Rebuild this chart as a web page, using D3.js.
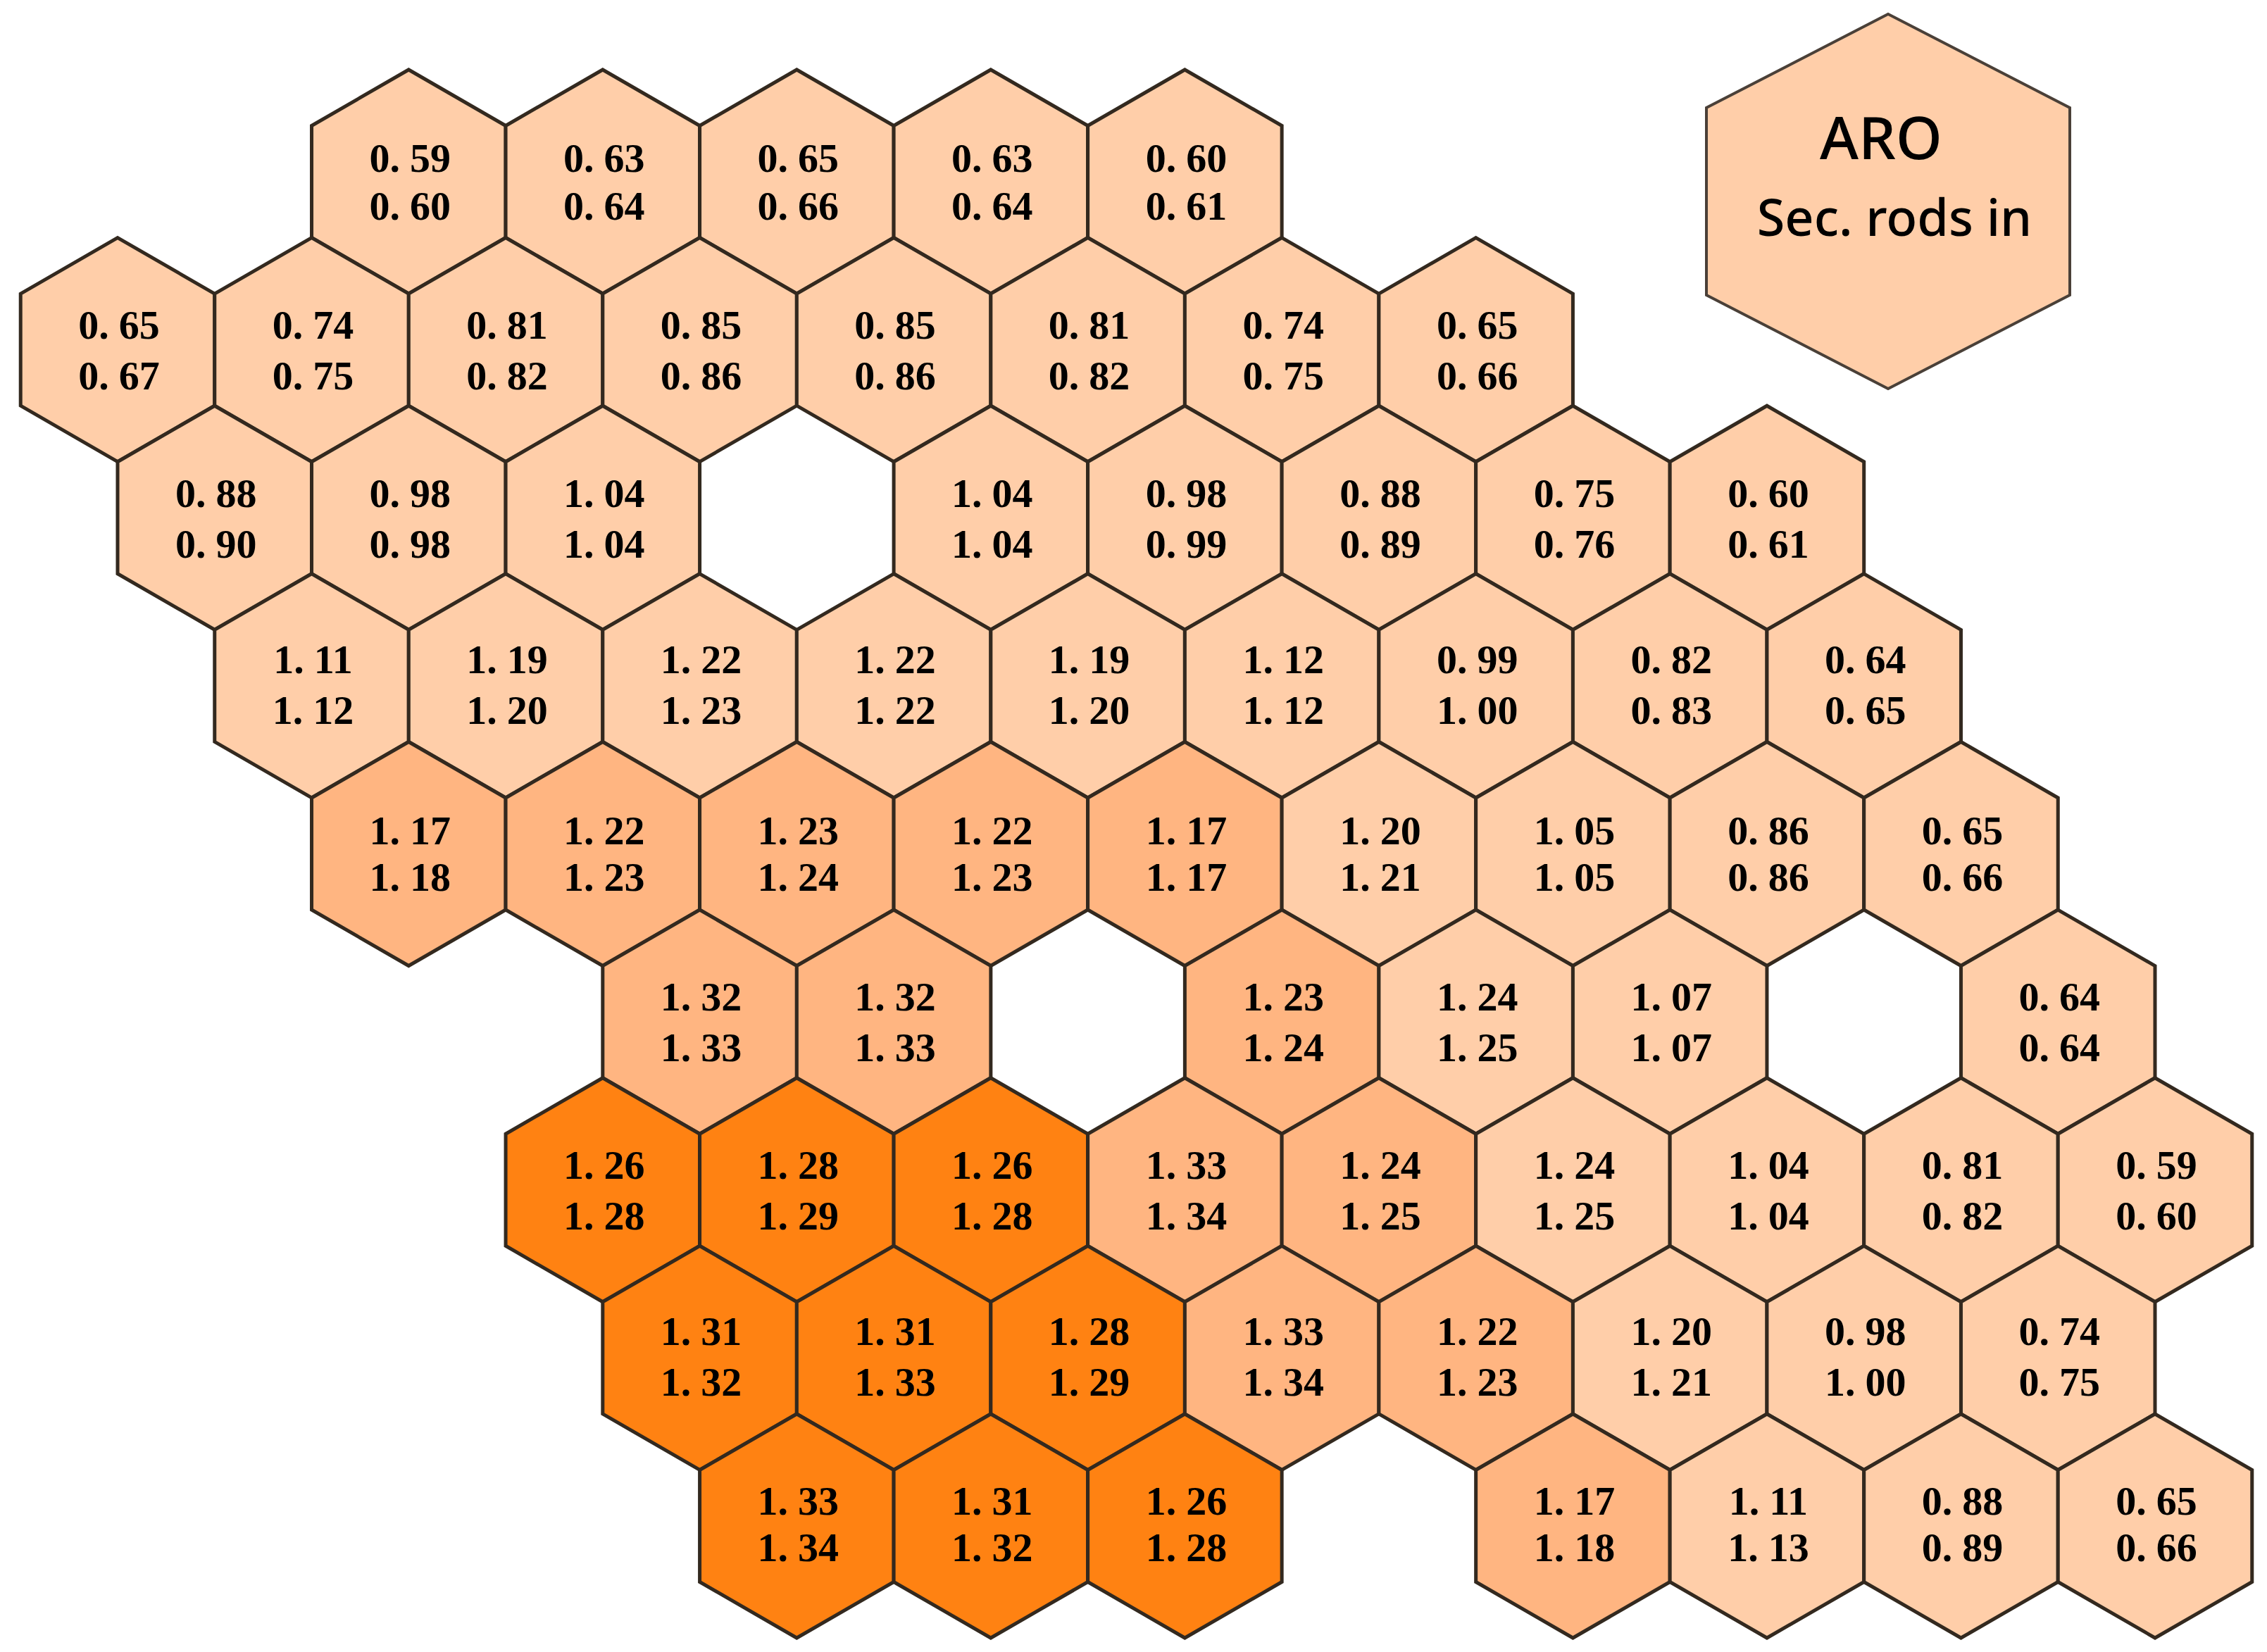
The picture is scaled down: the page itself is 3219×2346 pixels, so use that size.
<!DOCTYPE html>
<html>
<head>
<meta charset="utf-8">
<script src="https://cdn.jsdelivr.net/npm/d3@7"></script>
<style>
  html, body { margin: 0; padding: 0; background: #fff; }
  svg { display: block; }
</style>
</head>
<body>
<svg id="wrapper" width="3219" height="2346"></svg>
<script>
// each row is read left to right, null = empty (white) assembly
var rowStart = [3, 0, 1, 2, 3, 6, 5, 6, 7]

var aroValues = [
    ['0.59', '0.63', '0.65', '0.63', '0.60'],
    ['0.65', '0.74', '0.81', '0.85', '0.85', '0.81', '0.74', '0.65'],
    ['0.88', '0.98', '1.04', null, '1.04', '0.98', '0.88', '0.75', '0.60'],
    ['1.11', '1.19', '1.22', '1.22', '1.19', '1.12', '0.99', '0.82', '0.64'],
    ['1.17', '1.22', '1.23', '1.22', '1.17', '1.20', '1.05', '0.86', '0.65'],
    ['1.32', '1.32', null, '1.23', '1.24', '1.07', null, '0.64'],
    ['1.26', '1.28', '1.26', '1.33', '1.24', '1.24', '1.04', '0.81', '0.59'],
    ['1.31', '1.31', '1.28', '1.33', '1.22', '1.20', '0.98', '0.74'],
    ['1.33', '1.31', '1.26', null, '1.17', '1.11', '0.88', '0.65']
]

var secRodValues = [
    ['0.60', '0.64', '0.66', '0.64', '0.61'],
    ['0.67', '0.75', '0.82', '0.86', '0.86', '0.82', '0.75', '0.66'],
    ['0.90', '0.98', '1.04', null, '1.04', '0.99', '0.89', '0.76', '0.61'],
    ['1.12', '1.20', '1.23', '1.22', '1.20', '1.12', '1.00', '0.83', '0.65'],
    ['1.18', '1.23', '1.24', '1.23', '1.17', '1.21', '1.05', '0.86', '0.66'],
    ['1.33', '1.33', null, '1.24', '1.25', '1.07', null, '0.64'],
    ['1.28', '1.29', '1.28', '1.34', '1.25', '1.25', '1.04', '0.82', '0.60'],
    ['1.32', '1.33', '1.29', '1.34', '1.23', '1.21', '1.00', '0.75'],
    ['1.34', '1.32', '1.28', null, '1.18', '1.13', '0.89', '0.66']
]

// 0 = light, 1 = middle, 2 = dark region
var regions = [
    [0, 0, 0, 0, 0],
    [0, 0, 0, 0, 0, 0, 0, 0],
    [0, 0, 0, null, 0, 0, 0, 0, 0],
    [0, 0, 0, 0, 0, 0, 0, 0, 0],
    [1, 1, 1, 1, 1, 0, 0, 0, 0],
    [1, 1, null, 1, 0, 0, null, 0],
    [2, 2, 2, 1, 1, 0, 0, 0, 0],
    [2, 2, 2, 1, 1, 0, 0, 0],
    [2, 2, 2, null, 1, 0, 0, 0]
]

var regionColors = ['#ffcea9', '#ffb581', '#ff8212']

var legendLabels = ['ARO', 'Sec. rods in']

var svg = d3.select('#wrapper')

// half column steps, neighbouring hexagons in a row are 2 apart
var xScale = d3.scaleLinear().domain([0, 21]).range([167, 3060])
var yScale = d3.scaleLinear().domain([0, 8]).range([258, 2167])

var radius = 159
var halfWidth = xScale(1) - xScale(0)

// text baselines are not quite the same from row to row in the source
var aroBaseline = [-14, -16, -15, -18, -14, -16, -16, -18, -16]
var secBaseline = [54, 56, 57, 54, 52, 56, 56, 54, 50]

var cells = []
aroValues.forEach((row, r) => {
    row.forEach((value, i) => {
        if (value != null) {
            cells.push({
                col: rowStart[r] + i * 2,
                row: r,
                aro: value,
                sec: secRodValues[r][i],
                region: regions[r][i]
            })
        }
    })
})

var hexPath = (w, h) => d3.line()([
    [0, -h], [w, -h / 2], [w, h / 2], [0, h], [-w, h / 2], [-w, -h / 2]
]) + 'Z'

var cell = svg.selectAll('g.cell')
                .data(cells)
                .join('g')
                .attr('class', 'cell')
                .attr('transform', d => 'translate(' + xScale(d.col) + ',' + yScale(d.row) + ')')

cell.append('path')
    .attr('d', hexPath(halfWidth, radius))
    .attr('fill', d => regionColors[d.region])
    .attr('stroke', '#33291f')
    .attr('stroke-width', 5)
    .attr('stroke-linejoin', 'miter')

// the source font leaves a wide gap after the dot, so the decimals get a shift
var addNumber = (sel, key, baselines) => {
    var label = sel.append('text')
                    .attr('x', 2)
                    .attr('y', d => baselines[d.row])
                    .attr('text-anchor', 'middle')
                    .style('font-family', '"Liberation Serif", serif')
                    .style('font-weight', 700)
                    .style('font-size', '58px')
                    .style('fill', '#000')
    label.append('tspan').text(d => d[key].slice(0, 2))
    label.append('tspan').attr('dx', 14).text(d => d[key].slice(2))
}

addNumber(cell, 'aro', aroBaseline)
addNumber(cell, 'sec', secBaseline)

// legend hexagon is wider and taller than the grid ones
var legend = svg.append('g').attr('transform', 'translate(2681,286)')

legend.append('path')
    .attr('d', hexPath(258, 266))
    .attr('fill', regionColors[0])
    .attr('stroke', '#4a4038')
    .attr('stroke-width', 4)

legend.append('text')
    .attr('x', -10)
    .attr('y', -60)
    .attr('text-anchor', 'middle')
    .style('font-family', '"Noto Sans", sans-serif')
    .style('font-weight', 500)
    .style('font-size', '84px')
    .style('fill', '#000')
    .text(legendLabels[0])

legend.append('text')
    .attr('x', 9)
    .attr('y', 49)
    .attr('text-anchor', 'middle')
    .style('font-family', '"Noto Sans", sans-serif')
    .style('font-weight', 500)
    .style('font-size', '72px')
    .style('fill', '#000')
    .text(legendLabels[1])
</script>
</body>
</html>
